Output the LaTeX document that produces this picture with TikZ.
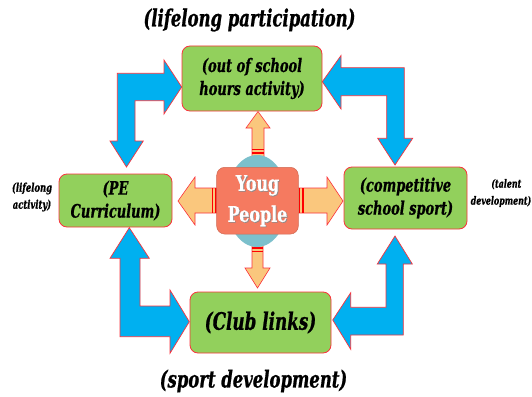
\documentclass[tikz,border=0pt]{standalone}
\usepackage{fontspec}
\usetikzlibrary{shapes.geometric}
\newfontfamily\slab[FakeStretch=0.7, FakeBold=0.8]{DejaVu Serif}
\newfontfamily\slabwide[FakeStretch=0.74, FakeBold=0.6]{DejaVu Serif}

\definecolor{boxgreen}{RGB}{146,208,92}
\definecolor{edgered}{RGB}{250,50,60}
\definecolor{flowblue}{RGB}{0,176,240}
\definecolor{peach}{RGB}{250,199,125}
\definecolor{hubsalmon}{RGB}{245,122,96}
\definecolor{hubteal}{RGB}{124,192,204}

\tikzset{
  stage/.style={draw=edgered, line width=0.8pt, fill=boxgreen, rounded corners=8pt,
    align=center, inner sep=0pt,
    font=\slab\bfseries\itshape\fontsize{18.5}{23}\selectfont},
  bigarrow/.style={draw=edgered, line width=0.7pt, fill=flowblue, line join=miter},
  smallarrow/.style={draw=edgered, line width=0.6pt, fill=peach},
  stripe/.style={draw=red, line width=1.1pt},
  note/.style={align=center, font=\slab\bfseries\itshape\fontsize{12}{17}\selectfont},
  heading/.style={font=\slab\bfseries\itshape\fontsize{23.5}{28}\selectfont},
}

\begin{document}
\begin{tikzpicture}[x=1pt, y=-1pt]
  \useasboundingbox (0,0) rectangle (532,396);
  \fill[white] (0,0) rectangle (532,396);

  % headings and side notes
  \node[heading] (lifelong) at (249.5,20) {(lifelong participation)};
  \node[heading] (sportdev) at (253.5,381) {(sport development)};
  \node[note] (lifeact) at (32,197) {(lifelong\\activity)};
  \node[note, anchor=east, inner sep=0pt, font=\slab\bfseries\itshape\fontsize{11.3}{17}\selectfont]
    (talent) at (531.5,193) {\phantom{de}(talent\\development)};

  % four activity boxes
  \node[stage, minimum width=140pt, minimum height=65pt] (outschool) at (252,78.5)
    {(out of school\\hours activity)};
  \node[stage, minimum width=113pt, minimum height=53pt] (pe) at (115.5,200.5)
    {(PE\\Curriculum)};
  \node[stage, minimum width=123pt, minimum height=62pt] (comp) at (405.5,198)
    {(competitive\\school sport)};
  \node[stage, minimum width=141pt, minimum height=61pt,
        font=\slab\bfseries\itshape\fontsize{24}{28}\selectfont] (club) at (260.5,322.5)
    {(Club links)};

  % blue corner arrows between the boxes
  \path[bigarrow] (126.5,167) -- (143.3,141) -- (135,141) -- (135,100.7) -- (164,100.7)
    -- (164,114) -- (181.7,87) -- (164,60) -- (164,73.3) -- (117.3,73.3)
    -- (117.3,141) -- (110,141) -- cycle;
  \path[bigarrow] (322.3,81.7) -- (341,55.5) -- (341,67.7) -- (404.3,67.7) -- (404.3,138.3)
    -- (412.7,138.3) -- (395,165) -- (377.7,138.3) -- (386.7,138.3) -- (386.7,95.7)
    -- (341,95.7) -- (341,109) -- cycle;
  \path[bigarrow] (129.3,227.7) -- (149.3,258.3) -- (140,258.3) -- (140,306) -- (170,306)
    -- (170,290) -- (189.3,321.7) -- (170,353.3) -- (170,336.7) -- (120,336.7)
    -- (120,258.3) -- (110,258.3) -- cycle;
  \path[bigarrow] (395,236) -- (412.3,264) -- (403.3,264) -- (403.3,335) -- (350.7,335)
    -- (350.7,349.3) -- (332.7,320) -- (350.7,292.7) -- (350.7,307.3) -- (386,307.3)
    -- (386,264) -- (377.3,264) -- cycle;

  % peach arrows leaving the centre
  \path[smallarrow] (258,111.5) -- (270,128) -- (264,128) -- (264,162) -- (252,162)
    -- (252,128) -- (246,128) -- cycle;
  \path[smallarrow] (257.5,288) -- (270,268) -- (263,268) -- (263,240) -- (252,240)
    -- (252,268) -- (245,268) -- cycle;
  \path[smallarrow] (178,201) -- (195,177) -- (195,188) -- (222,188) -- (222,213)
    -- (195,213) -- (195,225) -- cycle;
  \path[smallarrow] (343,201) -- (327,177) -- (327,188) -- (293,188) -- (293,213)
    -- (327,213) -- (327,225) -- cycle;

  % red bands across the arrow shafts
  \draw[stripe] (252,149.5) -- (264,149.5) (252,153) -- (264,153);
  \draw[stripe] (252,248) -- (263,248) (252,251.5) -- (263,251.5);
  \draw[stripe] (212.5,188) -- (212.5,213) (216,188) -- (216,213);
  \draw[stripe] (299.5,188) -- (299.5,213) (303,188) -- (303,213);

  % centre: young people
  \node[ellipse, fill=hubteal, minimum width=62pt, minimum height=92pt, inner sep=0pt]
    (halo) at (257,201) {};
  \node[fill=hubsalmon, draw=hubsalmon!85!black, line width=0.5pt, rounded corners=8pt,
        minimum width=81.6pt, minimum height=66.7pt, inner sep=0pt] (hub) at (257.5,200.7) {};
  \node[text=black!45, align=center, font=\slabwide\bfseries\fontsize{21.5}{31}\selectfont]
    (hubshadow) at (258.3,201.5) {Youg\\People};
  \node[text=white, align=center, font=\slabwide\bfseries\fontsize{21.5}{31}\selectfont]
    (hubtext) at (257.5,200.7) {Youg\\People};
\end{tikzpicture}
\end{document}
